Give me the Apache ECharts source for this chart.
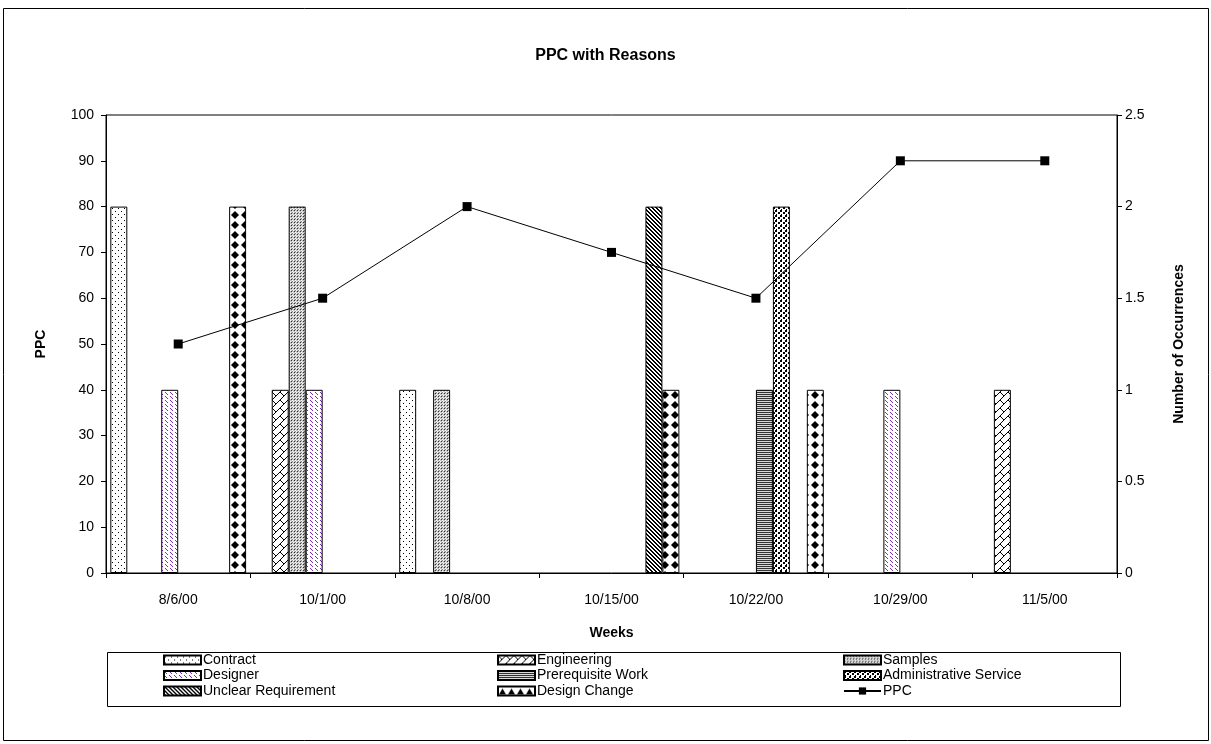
<!DOCTYPE html>
<html>
<head>
<meta charset="utf-8">
<script src="https://cdn.jsdelivr.net/npm/echarts@6/dist/echarts.min.js"></script>
<style>
html,body{margin:0;padding:0;background:#fff;}
#chart{width:1211px;height:744px;}
</style>
</head>
<body>
<div id="chart"></div>
<script>
const categories = ['8/6/00','10/1/00','10/8/00','10/15/00','10/22/00','10/29/00','11/5/00'];
const contract      = [2, null, 1, null, null, null, null];
const engineering   = [null, 1, null, null, null, null, 1];
const samples       = [null, 2, 1, null, null, null, null];
const designer      = [1, 1, null, null, null, 1, null];
const prerequisite  = [null, null, null, null, 1, null, null];
const adminService  = [null, null, null, null, 2, null, null];
const unclearReq    = [null, null, null, 2, null, null, null];
const designChange  = [2, null, null, 1, 1, null, null];
const ppc           = [50, 60, 80, 70, 60, 90, 90];
const ppcTicks = {min: 0, max: 100, interval: 10};
const occTicks = {min: 0, max: 2.5, interval: 0.5};

const FONT = '"Liberation Sans", Arial, sans-serif';

function pat(w, h, draw, bg) {
  const c = document.createElement('canvas');
  c.width = w; c.height = h;
  const g = c.getContext('2d');
  g.fillStyle = bg || '#fff'; g.fillRect(0, 0, w, h);
  draw(g);
  return {image: c, repeat: 'repeat'};
}
function px(g, x, y, col) { g.fillStyle = col || '#000'; g.fillRect(x, y, 1, 1); }

const pContract = pat(6, 6, g => { px(g,1,1); px(g,4,4); });
const pEngineering = pat(8, 8, g => {
  for (let i = 0; i < 8; i++) px(g, i, 7 - i);
  for (let i = 0; i < 4; i++) px(g, i, i);
});
const pSamples = pat(3, 3, g => { px(g,0,0,'#333'); px(g,1,1,'#fff'); px(g,2,2,'#fff'); px(g,1,2,'#888'); }, '#c4c4c4');
const PURPLE = '#7a2fb0';
const pDesigner = pat(5, 4, g => {
  for (let i = 0; i < 3; i++) px(g, i, i, PURPLE);
});
const pPrereq = pat(1, 2, g => { px(g,0,0,'#333'); px(g,0,1,'#d8d8d8'); });
const pAdmin = pat(5, 5, g => { g.fillStyle='#000'; g.fillRect(0,0,2,2); g.fillRect(3,2,2,2); g.fillRect(1,4,1,1); });
const pUnclear = pat(4, 4, g => { for (let i = 0; i < 4; i++) { px(g,i,i); px(g,(i+1)%4,i); } });
const pDiamond = pat(10, 10, g => {
  g.fillStyle = '#000';
  const dia = (cx, cy, r) => { g.beginPath(); g.moveTo(cx, cy - r); g.lineTo(cx + r, cy); g.lineTo(cx, cy + r); g.lineTo(cx - r, cy); g.closePath(); g.fill(); };
  dia(5, 5, 4);
});
const pTriangle = pat(9, 9, g => {
  g.fillStyle = '#000';
  g.beginPath(); g.moveTo(1, 8); g.lineTo(4.5, 2); g.lineTo(8, 8); g.closePath(); g.fill();
});

const barNames = ['Contract','Engineering','Samples','Designer','Prerequisite Work','Administrative Service','Unclear Requirement','Design Change'];
const barData = [contract, engineering, samples, designer, prerequisite, adminService, unclearReq, designChange];
const barFills = [pContract, pEngineering, pSamples, pDesigner, pPrereq, pAdmin, pUnclear, pDiamond];

const series = barNames.map((n, i) => ({
  name: n, type: 'bar', yAxisIndex: 1, data: barData[i],
  barGap: '0%', barCategoryGap: '6%',
  itemStyle: {color: barFills[i], borderColor: '#000', borderWidth: 1},
  emphasis: {disabled: true}, z: 2
}));
series.push({
  name: 'PPC', type: 'line', yAxisIndex: 0, data: ppc,
  symbol: 'rect', symbolSize: 9,
  itemStyle: {color: '#000'},
  lineStyle: {color: '#000', width: 1},
  emphasis: {disabled: true}, z: 5
});

const legendBase = {
  orient: 'vertical', top: 653, padding: 0, itemWidth: 37, itemHeight: 9, itemGap: 1.5,
  selectedMode: false,
  textStyle: {fontFamily: FONT, fontSize: 14, color: '#000', lineHeight: 14, padding: [0,0,0,-3]}
};
const rectItem = (name, extra) => Object.assign({name: name, icon: 'rect'}, extra || {});

const option = {
  animation: false,
  backgroundColor: '#fff',
  title: {
    text: 'PPC with Reasons', left: 'center', top: 43,
    textStyle: {fontFamily: FONT, fontSize: 16, fontWeight: 'bold', color: '#000'}
  },
  grid: {left: 106, right: 94, top: 115, bottom: 171, show: true, borderColor: '#000', borderWidth: 1, backgroundColor: 'transparent'},
  legend: [
    Object.assign({}, legendBase, {left: 163, data: [rectItem('Contract'), rectItem('Designer'), rectItem('Unclear Requirement')]}),
    Object.assign({}, legendBase, {left: 497, data: [rectItem('Engineering'), rectItem('Prerequisite Work'), rectItem('Design Change', {itemStyle: {color: pTriangle}})]}),
    Object.assign({}, legendBase, {left: 843, data: [rectItem('Samples'), rectItem('Administrative Service'), {name: 'PPC'}]})
  ],
  xAxis: {
    type: 'category', data: categories,
    name: 'Weeks', nameLocation: 'middle', nameGap: 53,
    nameTextStyle: {fontFamily: FONT, fontSize: 14, fontWeight: 'bold', color: '#000'},
    axisLine: {lineStyle: {color: '#000', width: 1}},
    axisTick: {show: true, length: 5, lineStyle: {color: '#000'}},
    axisLabel: {fontFamily: FONT, fontSize: 14, color: '#000', margin: 20},
    splitLine: {show: false}
  },
  yAxis: [
    {
      type: 'value', position: 'left', min: ppcTicks.min, max: ppcTicks.max, interval: ppcTicks.interval,
      name: 'PPC', nameLocation: 'middle', nameGap: 58, nameRotate: 90,
      nameTextStyle: {fontFamily: FONT, fontSize: 14, fontWeight: 'bold', color: '#000'},
      axisLine: {show: true, lineStyle: {color: '#000', width: 1}},
      axisTick: {show: true, length: 5, lineStyle: {color: '#000'}},
      axisLabel: {fontFamily: FONT, fontSize: 14, color: '#000', margin: 12},
      splitLine: {show: false}
    },
    {
      type: 'value', position: 'right', min: occTicks.min, max: occTicks.max, interval: occTicks.interval,
      name: 'Number of Occurrences', nameLocation: 'middle', nameGap: 55, nameRotate: 90,
      nameTextStyle: {fontFamily: FONT, fontSize: 14, fontWeight: 'bold', color: '#000'},
      axisLine: {show: true, lineStyle: {color: '#000', width: 1}},
      axisTick: {show: true, length: 5, lineStyle: {color: '#000'}},
      axisLabel: {fontFamily: FONT, fontSize: 14, color: '#000', margin: 8},
      splitLine: {show: false}
    }
  ],
  graphic: [
    {type: 'rect', shape: {x: 3.5, y: 8.5, width: 1205, height: 732}, style: {fill: 'none', stroke: '#000', lineWidth: 1}, silent: true, z: -1},
    {type: 'rect', shape: {x: 107.5, y: 652.5, width: 1013, height: 54}, style: {fill: 'none', stroke: '#000', lineWidth: 1}, silent: true, z: -1}
  ],
  series: series
};

const chart = echarts.init(document.getElementById('chart'), null, {renderer: 'canvas'});
chart.setOption(option);
</script>
</body>
</html>
